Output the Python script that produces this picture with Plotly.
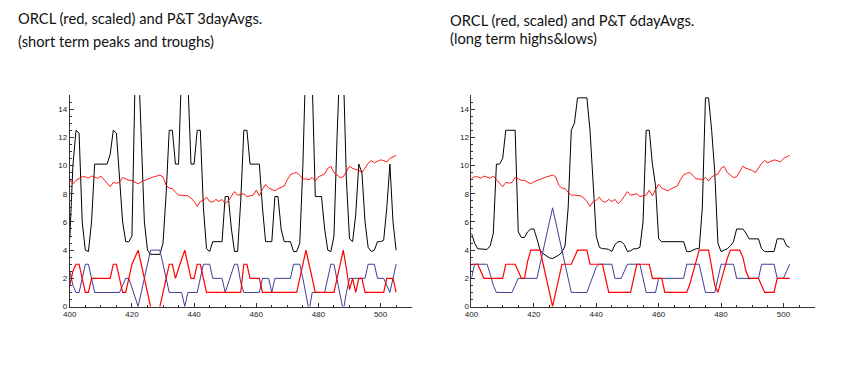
import plotly.graph_objects as go

# ---------------- data ----------------
x_left = list(range(400, 506))     # 400..505
x_right = list(range(400, 503))    # 400..502

# ORCL scaled price (left panel, x 400..505); right panel uses the same series offset by 3
orcl = [
    9.0, 8.7, 8.95, 9.1, 9.2, 9.2, 9.1, 9.25, 9.15, 9.1,
    9.25, 9.0, 8.8, 8.5, 8.8, 8.75, 8.8, 9.15, 9.05, 8.95,
    8.95, 8.85, 8.7, 8.85, 8.95, 9.05, 9.15, 9.2, 9.25, 9.33,
    9.2, 8.6, 8.4, 8.37, 8.1, 7.9, 7.9, 7.88, 7.85, 7.7,
    7.45, 7.1, 7.45, 7.55, 7.75, 7.45, 7.4, 7.6, 7.45, 7.6,
    7.3, 7.5, 7.8, 8.15, 7.9, 7.95, 8.0, 7.8, 7.85, 7.9,
    8.25, 7.85, 8.3, 8.67, 8.4, 8.3, 8.2, 8.35, 8.45, 8.55,
    9.0, 9.35, 9.45, 9.5, 9.3, 9.05, 9.05, 9.0, 9.15, 8.9,
    9.2, 9.3, 9.4, 9.8, 9.95, 9.5, 9.35, 9.15, 9.2, 9.6,
    9.95, 9.8, 9.75, 9.65, 9.5, 9.85, 10.15, 10.35, 10.2, 10.3,
    10.4, 10.35, 10.25, 10.5, 10.6, 10.72]
orcl_right = orcl[3:]

black3 = [
    4.8, 10.0, 12.5, 12.3, 6.0, 4.0, 3.9, 6.0, 10.1, 10.1,
    10.1, 10.1, 10.1, 10.8, 12.5, 12.3, 9.0, 6.0, 4.6, 4.6,
    5.0, 16.0, 18.0, 12.0, 6.0, 4.0, 3.7, 3.7, 3.7, 3.7,
    4.5, 8.0, 12.5, 12.5, 10.1, 10.1, 17.0, 18.0, 16.0, 10.1,
    10.1, 12.5, 12.5, 7.0, 4.1, 3.9, 4.6, 4.6, 4.6, 4.6,
    7.8, 7.8, 5.5, 3.9, 3.9, 7.5, 12.5, 12.5, 10.1, 10.1,
    10.1, 10.1, 7.0, 4.6, 4.6, 4.6, 7.8, 7.8, 5.5, 4.6,
    4.6, 4.6, 3.9, 3.9, 4.5, 10.0, 18.0, 18.0, 16.0, 7.8,
    7.8, 7.8, 5.5, 4.0, 3.9, 5.0, 12.0, 18.0, 17.0, 9.0,
    4.8, 4.6, 6.5, 10.1, 9.5, 6.0, 4.2, 3.9, 4.0, 4.6,
    4.6, 4.7, 7.0, 10.1, 6.0, 4.0]

red3 = [
    1.5, 2.5, 3, 3, 2, 1, 1, 2, 2, 2,
    2, 2, 2, 2, 3, 3, 2, 1, 1, 2,
    3, 3.5, 4, 3, 2, 1, 0, -1, -1, 0,
    1, 2, 3, 3, 2, 2.7, 3.4, 4, 3, 2,
    2, 3, 3, 2, 1, 1, 1, 1, 1, 1,
    1, 1, 1, 1, 1, 1, 3, 3, 2, 2,
    2, 2, 1, 1, 1, 1, 1, 1, 1, 1,
    1, 1, 1, 1, 2, 3, 4, 3, 2, 1,
    1, 1, 1, 1, 1, 1, 2, 3, 4, 2.7,
    1.2, 2, 1, 2, 2, 1, 1, 1, 1, 1,
    1, 1, 2, 2, 2, 1]

blue3 = [
    2.5, 1.5, 1, 1, 2, 3, 3, 2, 1, 1,
    1, 1, 1, 1, 1, 1, 1, 1.5, 2, 2,
    1.3, 0.6, 0, 1, 2, 3, 4, 4, 4, 4,
    3, 2, 1, 1, 1, 1, 1, 0, 1, 1,
    1, 1, 2, 3, 3, 3, 2, 2, 2, 2,
    1, 1.7, 2.4, 3, 3, 1.7, 1, 1, 1, 1,
    1, 1, 2, 2, 2, 1, 2, 2, 2, 2,
    2, 2, 3, 3, 3, 2, 1, -0.3, 1, 1,
    1, 1, 1, 2, 3, 3, 2, 1, -0.3, 1,
    2, 2, 2, 2, 2, 2, 3, 3, 3, 2,
    2, 2, 1.5, 1, 2, 3]

black6 = [
    5.2, 4.5, 4.1, 4.1, 4.05, 4.05, 4.3, 5.2, 10.1, 10.1,
    10.5, 12.5, 12.5, 12.5, 12.5, 5.3, 4.9, 4.9, 5.3, 5.5,
    5.5, 4.8, 4.0, 3.75, 3.6, 3.45, 3.4, 3.5, 3.65, 3.85,
    4.3, 7.0, 12.5, 13.0, 14.8, 14.8, 14.8, 14.8, 12.5, 9.0,
    5.0, 4.2, 4.1, 4.1, 4.05, 3.9, 4.4, 4.6, 4.6, 4.4,
    3.9, 3.95, 4.1, 4.1, 4.2, 6.0, 12.5, 12.5, 10.1, 8.6,
    4.8, 4.6, 4.6, 4.6, 4.6, 4.6, 4.6, 4.6, 4.6, 3.9,
    3.9, 4.0, 4.1, 4.1, 7.0, 14.8, 14.8, 12.5, 9.5, 4.5,
    3.9, 4.0, 4.1, 4.3, 4.6, 5.5, 5.5, 5.5, 5.2, 4.8,
    4.8, 4.8, 4.8, 4.1, 3.9, 3.9, 3.9, 3.9, 4.8, 4.8,
    4.8, 4.3, 4.2]

red6 = [
    3, 3, 3, 2.5, 2, 2, 2, 2, 2, 2,
    2, 3, 3, 3, 3, 2.5, 2, 2, 3.2, 4,
    4, 4, 4, 3, 2, 1, 0, 1, 2, 3,
    3, 3, 3, 3.5, 4, 4, 4, 4, 3, 3,
    3, 3, 3, 2, 1, 1, 1, 1, 1, 1,
    1, 1, 2, 3, 3, 3, 3, 3, 2, 2,
    2, 2, 1, 1, 1, 1, 1, 1, 1, 1,
    1.6, 2.4, 3.2, 4, 4, 4, 4, 2.8, 1.5, 1,
    1.8, 2.6, 3.4, 4, 4, 4, 4, 3.5, 2.5, 2,
    2, 2, 2, 1.5, 1, 1, 1, 1, 2, 2,
    2, 2, 2]

blue6 = [
    2, 3, 3, 3, 3, 3, 2.3, 1.5, 1, 1,
    1, 1, 1, 1, 1.5, 2, 2, 2, 2, 2,
    2, 2, 3, 4, 5, 6, 7, 6, 5, 4,
    3, 2, 1, 1, 1, 1, 1, 1, 1.6, 2.2,
    2.8, 3, 3, 3, 3, 3, 2, 2, 2, 2.5,
    3, 3, 3, 3, 3, 2, 1, 1, 1, 1,
    2, 2, 2, 2, 2, 2, 2, 2, 2, 3,
    3, 3, 3, 3, 2, 1, 1, 1, 1, 2,
    3, 3, 3, 3, 3, 2, 2, 2, 2, 2,
    2, 2, 2, 3, 3, 3, 3, 3, 2, 2,
    2, 2.5, 3]

x_tick_vals = [400, 420, 440, 460, 480, 500]
x_tick_text = ["400", "420", "440", "460", "480", "500"]
y_tick_vals = [0, 2, 4, 6, 8, 10, 12, 14]
y_tick_text = ["0", "2", "4", "6", "8", "10", "12", "14"]

title_left = ["ORCL (red, scaled) and P&T 3dayAvgs.", "(short term peaks and troughs)"]
title_right = ["ORCL (red, scaled) and P&T 6dayAvgs.", "(long term highs&lows)"]

# ---------------- styling ----------------
BLACK = "#000000"
RED = "#ff0000"
BLUE = "#3d3d99"
AX = "#333333"
W, H = 854, 375

fig = go.Figure()

def add_panel(xs, blk, blu, rd, orc, xa, ya):
    fig.add_trace(go.Scatter(x=xs, y=blk, mode="lines", line=dict(color=BLACK, width=1.0),
                             xaxis=xa, yaxis=ya, showlegend=False))
    fig.add_trace(go.Scatter(x=xs, y=blu, mode="lines", line=dict(color=BLUE, width=1.0),
                             xaxis=xa, yaxis=ya, showlegend=False))
    fig.add_trace(go.Scatter(x=xs, y=rd, mode="lines", line=dict(color=RED, width=1.2),
                             xaxis=xa, yaxis=ya, showlegend=False))
    fig.add_trace(go.Scatter(x=xs, y=orc, mode="lines", line=dict(color=RED, width=0.9),
                             xaxis=xa, yaxis=ya, showlegend=False))

add_panel(x_left, black3, blue3, red3, orcl, "x", "y")
add_panel(x_right, black6, blue6, red6, orcl_right, "x2", "y2")

def xaxis_cfg(dom, anchor):
    return dict(domain=dom, anchor=anchor, range=[400, 510], showline=True, linecolor=AX,
                linewidth=1, ticks="inside", ticklen=4, tickcolor=AX, tickwidth=1,
                tickvals=x_tick_vals, ticktext=x_tick_text, showgrid=False, zeroline=False,
                tickfont=dict(family="Liberation Sans", size=8, color="#222"),
                minor=dict(ticks="inside", dtick=5, tick0=400, ticklen=2, tickcolor=AX, showgrid=False))

def yaxis_cfg(dom, anchor):
    return dict(domain=dom, anchor=anchor, range=[0, 15], showline=True, linecolor=AX,
                linewidth=1, ticks="inside", ticklen=4, tickcolor=AX, tickwidth=1,
                tickvals=y_tick_vals, ticktext=y_tick_text, showgrid=False, zeroline=False,
                tickfont=dict(family="Liberation Sans", size=8, color="#222"),
                minor=dict(ticks="inside", dtick=0.5, tick0=0, ticklen=2, tickcolor=AX, showgrid=False))

ydom = [1 - 310.7 / H, 1 - 96.3 / H]
fig.update_layout(
    width=W, height=H,
    margin=dict(l=0, r=0, t=0, b=0),
    paper_bgcolor="white", plot_bgcolor="white",
    xaxis=xaxis_cfg([63.3 / W, 408 / W], "y"),
    yaxis=yaxis_cfg(ydom, "x"),
    xaxis2=xaxis_cfg([468.3 / W, 814.3 / W], "y2"),
    yaxis2=yaxis_cfg(ydom, "x2"),
)

TFONT = dict(family="Lato", size=14.7, color="#111")
ann = [
    (9.5, 18.5, title_left[0]), (9.5, 41.9, title_left[1]),
    (444.5, 20.1, title_right[0]), (444.5, 38.4, title_right[1]),
]
for px, py, txt in ann:
    fig.add_annotation(x=px / W, y=1 - py / H, xref="paper", yref="paper", text=txt,
                       showarrow=False, xanchor="left", yanchor="middle", font=TFONT)

fig.write_html("out.html", config={"displayModeBar": False},
               post_script="document.body.style.margin='0';document.body.style.overflow='hidden';")
